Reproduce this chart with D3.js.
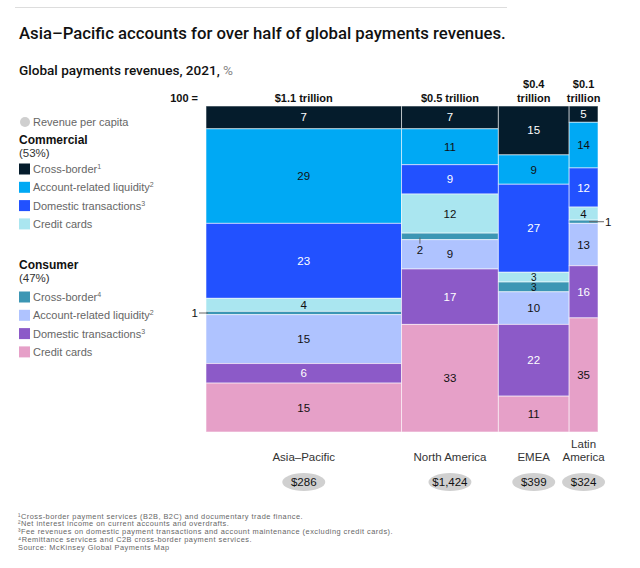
<!DOCTYPE html>
<html><head><meta charset="utf-8">
<script src="https://cdn.jsdelivr.net/npm/d3@7"></script>
<style>
body{margin:0;background:#fff;}
svg{display:block;font-family:"Liberation Sans",Arial,sans-serif;}
</style></head>
<body><svg id="c" width="640" height="568"></svg>
<script>
// ---------- DATA ----------
const regions = ["Asia–Pacific", "North America", "EMEA", "Latin America"];
const regionLabelLines = [["Asia–Pacific"], ["North America"], ["EMEA"], ["Latin", "America"]];
const revenueTrillions = [1.05, 0.52, 0.38, 0.155]; // estimated from column widths
const headerLabels = [["$1.1 trillion"], ["$0.5 trillion"], ["$0.4", "trillion"], ["$0.1", "trillion"]];
const revenuePerCapita = ["$286", "$1,424", "$399", "$324"];
const segmentNames = ["Commercial cross-border", "Commercial account-related liquidity", "Commercial domestic transactions", "Commercial credit cards",
  "Consumer cross-border", "Consumer account-related liquidity", "Consumer domestic transactions", "Consumer credit cards"];
const asiaPacific = [7, 29, 23, 4, 1, 15, 6, 15];
const northAmerica = [7, 11, 9, 12, 2, 9, 17, 33];
const emea = [15, 9, 27, 3, 3, 10, 22, 11];
const latinAmerica = [5, 14, 12, 4, 1, 13, 16, 35];
const shares = [asiaPacific, northAmerica, emea, latinAmerica];
const commercialLegend = ["Cross-border", "Account-related liquidity", "Domestic transactions", "Credit cards"];
const commercialSup = ["1", "2", "3", ""];
const consumerLegend = ["Cross-border", "Account-related liquidity", "Domestic transactions", "Credit cards"];
const consumerSup = ["4", "2", "3", ""];
const footnotes = ["¹Cross-border payment services (B2B, B2C) and documentary trade finance.",
  "²Net interest income on current accounts and overdrafts.",
  "³Fee revenues on domestic payment transactions and account maintenance (excluding credit cards).",
  "⁴Remittance services and C2B cross-border payment services.",
  " Source: McKinsey Global Payments Map"];

// ---------- STYLE ----------
const colors = ["#051c2c", "#00a9f4", "#2251ff", "#aae6f0", "#3c96b4", "#afc3ff", "#8c5ac8", "#e6a0c8"];
const whiteText = [true, false, true, false, false, false, true, false];
const smallPlacement = ["left", "below", "inside", "right"];

const svg = d3.select("#c");
const ink = "#111";

function fitWidth(sel, target) {
  const fs = +sel.attr("font-size");
  const w = sel.node().getComputedTextLength();
  if (w > 0) sel.attr("font-size", (fs * target / w).toFixed(2));
}

svg.append("line").attr("x1", 15).attr("x2", 507).attr("y1", 7.5).attr("y2", 7.5).attr("stroke", "#ddd").attr("stroke-width", 1);
const title = svg.append("text").attr("x", 19).attr("y", 38.5).attr("font-size", 17).attr("font-weight", 500)
  .attr("font-family", "Roboto, 'Liberation Sans', sans-serif").attr("fill", ink)
  .text("Asia–Pacific accounts for over half of global payments revenues.");
fitWidth(title, 487);
const sub = svg.append("text").attr("x", 19).attr("y", 75).attr("font-size", 12.5).attr("font-weight", 500)
  .attr("font-family", "Roboto, 'Liberation Sans', sans-serif").attr("fill", ink);
sub.append("tspan").text("Global payments revenues, 2021,  ");
sub.append("tspan").attr("fill", "#888").attr("font-weight", "normal").text("%");
fitWidth(sub, 214);

// ---------- SCALES ----------
const cum = [0]; revenueTrillions.forEach(v => cum.push(cum[cum.length - 1] + v));
const x = d3.scaleLinear().domain([0, cum[cum.length - 1]]).range([206, 598]);
const y = d3.scaleLinear().domain([0, 100]).range([106, 432]);

svg.append("text").attr("x", 198).attr("y", 102).attr("text-anchor", "end").attr("font-size", 11).attr("font-weight", "bold").attr("fill", ink).text("100 =");

shares.forEach((vals, ci) => {
  const x0 = x(cum[ci]), x1 = x(cum[ci + 1]), cx = (x0 + x1) / 2;
  let acc = 0;
  const g = svg.append("g");
  vals.forEach((v, si) => {
    const y0 = y(acc), y1 = y(acc + v);
    g.append("rect").attr("x", x0).attr("y", y0).attr("width", x1 - x0).attr("height", y1 - y0)
      .attr("fill", colors[si]).attr("stroke", "rgba(255,255,255,0.55)").attr("stroke-width", 1);
    const cy = (y0 + y1) / 2;
    if (v <= 2) {
      const pos = smallPlacement[ci];
      if (pos === "left") {
        svg.append("line").attr("x1", x0 - 7).attr("x2", x0 + 2).attr("y1", cy).attr("y2", cy).attr("stroke", "#666").attr("stroke-width", 1);
        svg.append("text").attr("x", x0 - 8).attr("y", cy + 4).attr("text-anchor", "end").attr("font-size", 11.5).attr("fill", ink).text(v);
      } else if (pos === "right") {
        svg.append("line").attr("x1", x1 - 9).attr("x2", x1 + 6).attr("y1", cy).attr("y2", cy).attr("stroke", "#666").attr("stroke-width", 1);
        svg.append("text").attr("x", x1 + 7).attr("y", cy + 4).attr("font-size", 11.5).attr("fill", ink).text(v);
      } else if (pos === "below") {
        const tx = x0 + (x1 - x0) * 0.19;
        svg.append("line").attr("x1", tx).attr("x2", tx).attr("y1", y1 - 2).attr("y2", y1 + 4).attr("stroke", "#666").attr("stroke-width", 1);
        svg.append("text").attr("x", tx).attr("y", y1 + 14).attr("text-anchor", "middle").attr("font-size", 11.5).attr("fill", ink).text(v);
      }
    } else {
      const small = v <= 3;
      g.append("text").attr("x", cx).attr("y", cy + (small ? 3.6 : 4)).attr("text-anchor", "middle").attr("font-size", small ? 10 : 11.5)
        .attr("fill", whiteText[si] ? "#fff" : ink).text(v);
    }
    acc += v;
  });
  // header
  const hl = headerLabels[ci];
  hl.forEach((t, li) => {
    svg.append("text").attr("x", cx).attr("y", 102 - (hl.length - 1 - li) * 14.5).attr("text-anchor", "middle")
      .attr("font-size", 11).attr("font-weight", "bold").attr("fill", ink).text(t);
  });
  // region label
  const rl = regionLabelLines[ci];
  rl.forEach((t, li) => {
    svg.append("text").attr("x", cx).attr("y", 461 - (rl.length - 1 - li) * 13.5).attr("text-anchor", "middle")
      .attr("font-size", 11.5).attr("fill", "#333").text(t);
  });
  svg.append("ellipse").attr("cx", cx).attr("cy", 482).attr("rx", 21.5).attr("ry", 9).attr("fill", "#d0d0d0");
  svg.append("text").attr("x", cx).attr("y", 486).attr("text-anchor", "middle").attr("font-size", 11.5).attr("fill", ink).text(revenuePerCapita[ci]);
});

// ---------- LEGEND ----------
const lg = svg.append("g");
lg.append("circle").attr("cx", 25).attr("cy", 122).attr("r", 5).attr("fill", "#cfcfcf");
lg.append("text").attr("x", 33).attr("y", 126).attr("font-size", 11).attr("fill", "#666").text("Revenue per capita");
function group(title, pct, yTitle, names, sups, colorOffset, yStart) {
  lg.append("text").attr("x", 19).attr("y", yTitle).attr("font-size", 12).attr("font-weight", "bold").attr("fill", ink).text(title);
  lg.append("text").attr("x", 19).attr("y", yTitle + 13).attr("font-size", 11.5).attr("fill", "#333").text(pct);
  names.forEach((n, i) => {
    const yy = yStart + i * 18.3;
    lg.append("rect").attr("x", 19).attr("y", yy - 5.5).attr("width", 11).attr("height", 11).attr("fill", colors[colorOffset + i]);
    const t = lg.append("text").attr("x", 33).attr("y", yy + 4).attr("font-size", 11).attr("fill", "#666").text(n);
    if (sups[i]) t.append("tspan").attr("font-size", 7).attr("dy", -4).text(sups[i]);
  });
}
group("Commercial", "(53%)", 144, commercialLegend, commercialSup, 0, 169);
group("Consumer", "(47%)", 269, consumerLegend, consumerSup, 4, 297);

// ---------- FOOTNOTES ----------
const fn = footnotes.map((f, i) =>
  svg.append("text").attr("x", 18).attr("y", 518.5 + i * 7.8).attr("font-size", 7.4).attr("fill", "#666").text(f));
const ref = fn[2].node().getComputedTextLength();
const ls = ((375 - ref) / footnotes[2].length).toFixed(3);
fn.forEach(t => t.attr("letter-spacing", ls));
</script></body></html>
